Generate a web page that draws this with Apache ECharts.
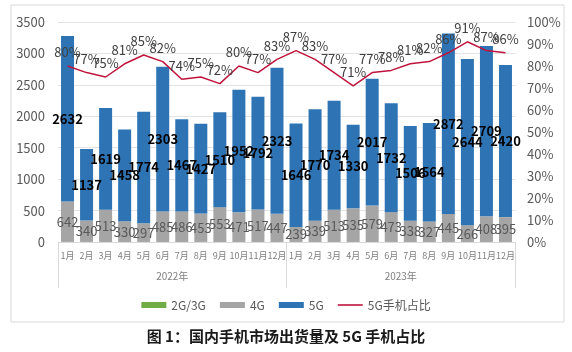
<!DOCTYPE html>
<html>
<head>
<meta charset="utf-8">
<script src="https://cdn.jsdelivr.net/npm/echarts@6/dist/echarts.min.js"></script>
<style>
  html, body { margin: 0; padding: 0; background: #fff; }
  #main { width: 572px; height: 352px; }
</style>
</head>
<body>
<div id="main"></div>
<script>
// 月份 / 年份
const months = ['1月','2月','3月','4月','5月','6月','7月','8月','9月','10月','11月','12月',
                '1月','2月','3月','4月','5月','6月','7月','8月','9月','10月','11月','12月']
const years = ['2022年', '2023年']

// 出货量（万部）
const g23 = [2, 1, 1, 1, 1, 1, 1, 1, 1, 1, 1, 1,
             1, 1, 1, 1, 1, 1, 1, 1, 1, 1, 1, 1]
const g4 = [642, 340, 513, 330, 297, 485, 486, 453, 553, 471, 517, 447,
            239, 339, 513, 535, 579, 473, 338, 327, 445, 266, 408, 395]
const g5 = [2632, 1137, 1619, 1458, 1774, 2303, 1467, 1427, 1510, 1952, 1792, 2323,
            1646, 1770, 1734, 1330, 2017, 1732, 1506, 1564, 2872, 2644, 2709, 2420]
// 5G手机占比 %
const ratio5g = [80, 77, 75, 81, 85, 82, 74, 75, 72, 80, 77, 83,
                 87, 83, 77, 71, 77, 78, 81, 82, 86, 91, 87, 86]

const font = 'Noto Sans CJK SC'
const lineColor = '#C0143C'
const chart = echarts.init(document.getElementById('main'))

chart.setOption({
  animation: false,
  textStyle: { fontFamily: font },
  grid: { left: 58, right: 57, top: 22, bottom: 110 },
  graphic: [
    {
      type: 'rect',
      shape: { x: 11, y: 5, width: 553, height: 317 },
      style: { fill: 'none', stroke: '#d9d9d9', lineWidth: 1 }
    },
    {
      type: 'text',
      left: 'center',
      top: 329,
      style: {
        text: '图 1：国内手机市场出货量及 5G 手机占比',
        font: 'bold 15px "Noto Sans CJK SC"',
        fill: '#1a1a1a'
      }
    }
  ],
  legend: {
    top: 294,
    left: 'center',
    itemWidth: 25,
    itemHeight: 6,
    itemGap: 14,
    textStyle: { fontSize: 12, color: '#595959', fontFamily: font },
    data: [
      { name: '2G/3G', icon: 'rect' },
      { name: '4G', icon: 'rect' },
      { name: '5G', icon: 'rect' },
      { name: '5G手机占比', icon: 'path://M0,0 L25,0 L25,1.6 L0,1.6 Z', itemStyle: { color: lineColor } }
    ]
  },
  xAxis: [
    {
      type: 'category',
      data: months,
      axisLine: { lineStyle: { color: '#d9d9d9' } },
      axisTick: { show: false },
      axisLabel: { interval: 0, fontSize: 9, color: '#7f7f7f', margin: 9 }
    },
    {
      type: 'category',
      data: years,
      position: 'bottom',
      axisLine: { show: false },
      axisTick: { show: true, length: 46, lineStyle: { color: '#d9d9d9' } },
      axisLabel: { fontSize: 10, color: '#7f7f7f', margin: 29 },
      splitLine: { show: false }
    }
  ],
  yAxis: [
    {
      type: 'value',
      min: 0,
      max: 3500,
      interval: 500,
      axisLine: { show: false },
      axisTick: { show: false },
      axisLabel: { fontSize: 13, color: '#595959', margin: 13, formatter: v => String(v) },
      splitLine: { lineStyle: { color: '#e3e3e3' } }
    },
    {
      type: 'value',
      min: 0,
      max: 100,
      interval: 10,
      axisLine: { show: false },
      axisTick: { show: false },
      axisLabel: { fontSize: 13, color: '#595959', margin: 12, formatter: '{value}%' },
      splitLine: { show: false }
    }
  ],
  series: [
    {
      name: '2G/3G',
      type: 'bar',
      stack: 'total',
      data: g23,
      barWidth: 13,
      itemStyle: { color: '#70AD47' }
    },
    {
      name: '4G',
      type: 'bar',
      stack: 'total',
      data: g4,
      barWidth: 13,
      itemStyle: { color: '#A5A5A5' },
      label: {
        show: true,
        position: 'inside',
        fontSize: 13,
        color: '#595959',
        fontFamily: font
      }
    },
    {
      name: '5G',
      type: 'bar',
      stack: 'total',
      data: g5,
      barWidth: 13,
      itemStyle: { color: '#2E74B5' },
      label: {
        show: true,
        position: 'inside',
        fontSize: 13,
        fontWeight: 'bold',
        color: '#000',
        fontFamily: font
      }
    },
    {
      name: '5G手机占比',
      type: 'line',
      yAxisIndex: 1,
      data: ratio5g,
      symbol: 'circle',
      symbolSize: 0,
      lineStyle: { color: lineColor, width: 1.5 },
      itemStyle: { color: lineColor },
      label: {
        show: true,
        position: 'top',
        distance: 7,
        fontSize: 13,
        color: '#404040',
        fontFamily: font,
        formatter: '{c}%'
      }
    }
  ]
})
</script>
</body>
</html>
